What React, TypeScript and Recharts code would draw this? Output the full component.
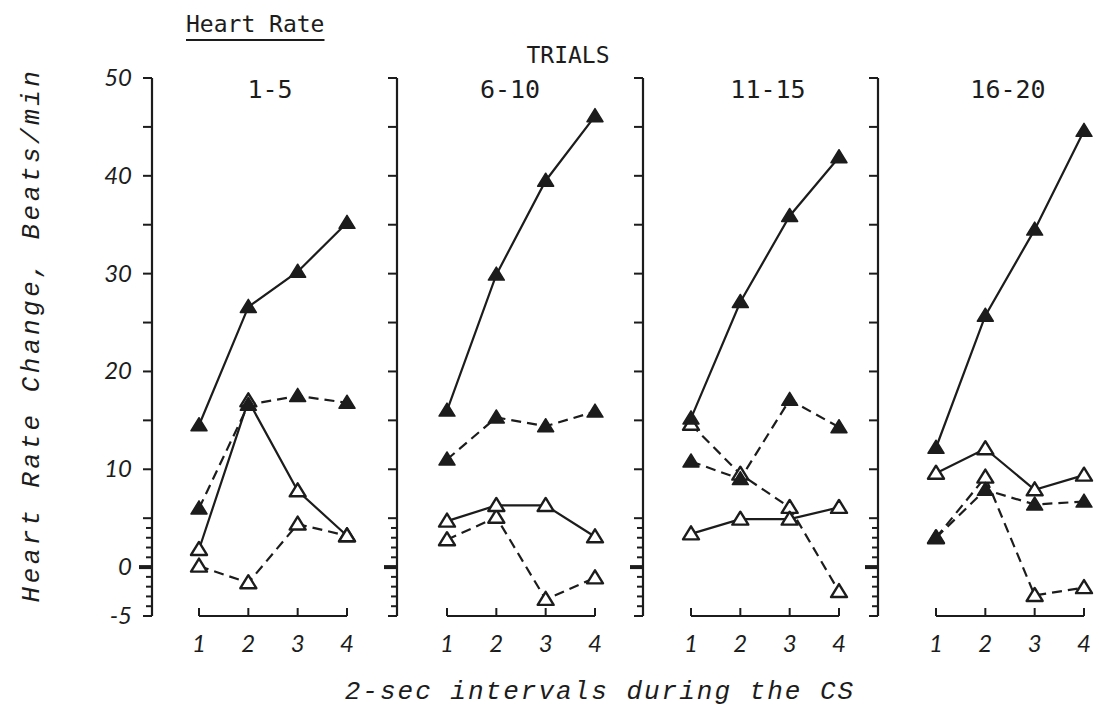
import { Line, LineChart, ReferenceLine, XAxis, YAxis } from 'recharts';

const intervals = [1, 2, 3, 4];
const trialBlocks = ['1-5', '6-10', '11-15', '16-20'];
const yTicks = [-5, -4, -3, -2, -1, 0, 1, 2, 3, 4, 5, 10, 15, 20, 25, 30, 35, 40, 45, 50];
const minorTicks = [-4, -3, -2, -1, 1, 2, 3, 4];
const yTickLabels = [-5, 0, 10, 20, 30, 40, 50];

// one row per trial block, one value per 2-sec interval
const solidFilled = [
  [14.5, 26.6, 30.2, 35.2],
  [16.0, 29.9, 39.5, 46.1],
  [15.2, 27.1, 35.9, 41.9],
  [12.2, 25.7, 34.5, 44.6],
];
const dashedFilled = [
  [6.0, 16.6, 17.5, 16.8],
  [11.0, 15.3, 14.4, 15.9],
  [10.8, 9.0, 17.1, 14.3],
  [3.0, 7.9, 6.4, 6.7],
];
const solidOpen = [
  [1.8, 17.0, 7.8, 3.2],
  [4.7, 6.3, 6.3, 3.1],
  [3.4, 4.9, 4.9, 6.1],
  [9.6, 12.1, 7.9, 9.4],
];
const dashedOpen = [
  [0.1, -1.6, 4.4, 3.2],
  [2.8, 5.1, -3.3, -1.1],
  [14.6, 9.5, 6.1, -2.5],
  [3.0, 9.2, -2.9, -2.1],
];

const INK = '#1c1c1c';
const tickFont = { fontFamily: 'Lato', fontStyle: 'italic', fontWeight: 400, fontSize: 24, fill: INK };
const typeFont = 'DejaVu Sans Mono';
const scriptFont = 'Liberation Mono';

// panel geometry: where each y axis sits and how far interval 1 is from it
const axisX = [152, 397, 643, 878];
const gapToFirst = [47, 50, 48, 58];
const titleX = [270, 510, 768, 1008];
const SPAN = 148;
const PLOT_TOP = 78;
const PLOT_H = 538;
const TOP_M = 20;
const Y_AXIS_W = 60;

function Triangle({ cx, cy, filled }: { cx: number; cy: number; filled: boolean }) {
  if (cx == null || cy == null) return null;
  const d = `M${cx},${cy - 7.5} L${cx + 8},${cy + 5.5} L${cx - 8},${cy + 5.5} Z`;
  return filled ? (
    <path d={d} fill={INK} stroke={INK} strokeWidth={1.5} strokeLinejoin="round" />
  ) : (
    <path d={d} fill="#fff" stroke={INK} strokeWidth={2.4} strokeLinejoin="round" />
  );
}

function YTick(props: any) {
  const { x, y, payload, showLabel } = props;
  const v = payload.value;
  const zero = v === 0;
  const minor = minorTicks.includes(v);
  return (
    <g>
      <line x1={x} x2={x - (zero ? 13 : minor ? 6 : 9)} y1={y} y2={y} stroke={INK} strokeWidth={zero ? 4 : 2} />
      {showLabel && yTickLabels.includes(v) && (
        <text x={x - 20} y={y} dy={8} textAnchor="end" {...tickFont}>
          {v}
        </text>
      )}
    </g>
  );
}

function XTick(props: any) {
  const { x, y, payload } = props;
  return (
    <g>
      <line x1={x} x2={x} y1={y} y2={y - 8} stroke={INK} strokeWidth={2} />
      <text x={x} y={y + 36} textAnchor="middle" {...tickFont}>
        {payload.value}
      </text>
    </g>
  );
}

function Panel({ p }: { p: number }) {
  const data = intervals.map((interval, i) => ({
    interval,
    solidFilled: solidFilled[p][i],
    dashedFilled: dashedFilled[p][i],
    solidOpen: solidOpen[p][i],
    dashedOpen: dashedOpen[p][i],
  }));
  const width = Y_AXIS_W + gapToFirst[p] + SPAN + 15;
  const series = [
    { key: 'dashedOpen', dash: '10 6', filled: false },
    { key: 'solidOpen', dash: undefined, filled: false },
    { key: 'dashedFilled', dash: '10 6', filled: true },
    { key: 'solidFilled', dash: undefined, filled: true },
  ];
  return (
    <div style={{ position: 'absolute', left: axisX[p] - Y_AXIS_W, top: PLOT_TOP - TOP_M }}>
      <LineChart width={width} height={PLOT_H + TOP_M + 42} data={data} margin={{ top: TOP_M, right: 15, bottom: 0, left: 0 }}>
        <XAxis
          dataKey="interval"
          type="number"
          domain={[1, 4]}
          ticks={intervals}
          interval={0}
          padding={{ left: gapToFirst[p], right: 0 }}
          axisLine={false}
          tickLine={false}
          tickSize={0}
          tickMargin={0}
          height={42}
          tick={<XTick />}
        />
        <YAxis
          type="number"
          domain={[-5, 50]}
          ticks={yTicks}
          interval={0}
          minTickGap={0}
          width={Y_AXIS_W}
          axisLine={{ stroke: INK, strokeWidth: 2.2 }}
          tickLine={false}
          tickSize={0}
          tickMargin={0}
          tick={<YTick showLabel={p === 0} />}
        />
        <ReferenceLine
          segment={[{ x: 1, y: -5 }, { x: 4, y: -5 }]}
          stroke={INK}
          strokeWidth={2.2}
          ifOverflow="visible"
        />
        {series.map((s) => (
          <Line
            key={s.key}
            type="linear"
            dataKey={s.key}
            stroke={INK}
            strokeWidth={2.2}
            strokeDasharray={s.dash}
            dot={(d: any) => <Triangle key={`${s.key}-${d.index}`} cx={d.cx} cy={d.cy} filled={s.filled} />}
            activeDot={false}
            isAnimationActive={false}
          />
        ))}
      </LineChart>
    </div>
  );
}

export default function App() {
  return (
    <div style={{ position: 'absolute', left: 0, top: 0, width: 1099, height: 711, background: '#fff', color: INK }}>
      <div
        style={{
          position: 'absolute',
          left: 186,
          top: 11,
          fontFamily: typeFont,
          fontSize: 23,
          textDecoration: 'underline',
          textUnderlineOffset: 7,
          textDecorationThickness: 2,
        }}
      >
        Heart Rate
      </div>
      <div style={{ position: 'absolute', left: 468, width: 200, top: 42, textAlign: 'center', fontFamily: typeFont, fontSize: 23 }}>
        TRIALS
      </div>
      {trialBlocks.map((t, i) => (
        <div
          key={t}
          style={{ position: 'absolute', left: titleX[i] - 100, width: 200, top: 75, textAlign: 'center', fontFamily: typeFont, fontSize: 25 }}
        >
          {t}
        </div>
      ))}
      {trialBlocks.map((t, i) => (
        <Panel key={t} p={i} />
      ))}
      <div
        style={{
          position: 'absolute',
          left: 32 - 300,
          top: 335 - 16,
          width: 600,
          height: 32,
          lineHeight: '32px',
          textAlign: 'center',
          transform: 'rotate(-90deg)',
          fontFamily: scriptFont,
          fontStyle: 'italic',
          fontSize: 26,
          letterSpacing: 3.5,
          whiteSpace: 'nowrap',
        }}
      >
        Heart Rate Change, Beats/min
      </div>
      <div
        style={{
          position: 'absolute',
          left: 300,
          width: 600,
          top: 677,
          textAlign: 'center',
          fontFamily: scriptFont,
          fontStyle: 'italic',
          fontSize: 26,
          letterSpacing: 2,
          whiteSpace: 'nowrap',
        }}
      >
        2-sec intervals during the CS
      </div>
    </div>
  );
}
